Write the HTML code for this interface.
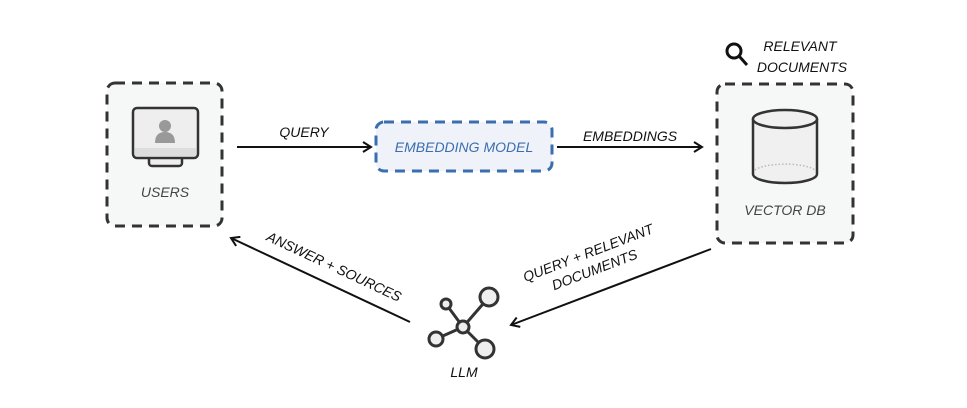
<!DOCTYPE html>
<html><head><style>
body{margin:0;background:#fff}
svg text{font-family:"Liberation Sans",sans-serif;font-style:italic;font-size:14px}
</style></head><body>
<svg width="967" height="403" viewBox="0 0 967 403">
<defs><marker id="a" markerWidth="12" markerHeight="12" refX="10" refY="6" orient="auto" markerUnits="userSpaceOnUse"><path d="M2,1 L10,6 L2,11" fill="none" stroke="#111" stroke-width="2"/></marker></defs>
<rect x="107" y="83" width="115" height="143" rx="8" fill="#f6f8f8" stroke="#333" stroke-width="3" stroke-dasharray="10,7"/>
<rect x="376" y="122" width="176" height="49" rx="8" fill="#eff3f9" stroke="#3b6eae" stroke-width="3" stroke-dasharray="10,7"/>
<rect x="717" y="84" width="136" height="159" rx="8" fill="#f6f8f8" stroke="#333" stroke-width="3" stroke-dasharray="10,7"/>
<!-- monitor -->
<rect x="149" y="156" width="33" height="10" rx="3" fill="#eee" stroke="#333" stroke-width="2.5"/>
<rect x="133" y="108" width="65" height="50" rx="4" fill="#eee" stroke="#333" stroke-width="2.5"/>
<rect x="135" y="148" width="61" height="8" fill="#ddd"/>
<circle cx="165" cy="126" r="6" fill="#999"/><path d="M155,143 Q155,132 165,132 Q175,132 175,143Z" fill="#999"/>
<text x="165" y="197" text-anchor="middle" fill="#444">USERS</text>
<text x="464" y="152" text-anchor="middle" fill="#3b6eae">EMBEDDING MODEL</text>
<!-- cylinder -->
<path d="M753,119 L753,174 A32,9 0 0 0 817,174 L817,119" fill="#f0f0f0" stroke="#333" stroke-width="2.5"/>
<ellipse cx="785" cy="119" rx="32" ry="9" fill="#f0f0f0" stroke="#333" stroke-width="2.5"/>
<path d="M755,170 A32,9 0 0 1 815,170" fill="none" stroke="#bbb" stroke-width="1.5" stroke-dasharray="1.5,2"/>
<text x="785" y="215" text-anchor="middle" fill="#444">VECTOR DB</text>
<!-- search -->
<circle cx="734" cy="51" r="7" fill="none" stroke="#111" stroke-width="3"/><line x1="739" y1="56" x2="747" y2="65" stroke="#111" stroke-width="3"/>
<text x="800" y="51" text-anchor="middle" fill="#111">RELEVANT</text>
<text x="802" y="72" text-anchor="middle" fill="#111">DOCUMENTS</text>
<!-- arrows -->
<line x1="237" y1="147" x2="371" y2="147" stroke="#111" stroke-width="2" marker-end="url(#a)"/>
<text x="304" y="137" text-anchor="middle" fill="#111">QUERY</text>
<line x1="557" y1="147" x2="702" y2="147" stroke="#111" stroke-width="2" marker-end="url(#a)"/>
<text x="630" y="141" text-anchor="middle" fill="#111">EMBEDDINGS</text>
<line x1="711" y1="249" x2="511" y2="325" stroke="#111" stroke-width="2" marker-end="url(#a)"/>
<g transform="translate(592,263) rotate(-21)"><text x="0" y="-6" text-anchor="middle" fill="#111">QUERY + RELEVANT</text><text x="0" y="12" text-anchor="middle" fill="#111">DOCUMENTS</text></g>
<line x1="410" y1="322" x2="231" y2="238" stroke="#111" stroke-width="2" marker-end="url(#a)"/>
<g transform="translate(332,271) rotate(25)"><text x="0" y="0" text-anchor="middle" fill="#111">ANSWER + SOURCES</text></g>
<!-- LLM -->
<g stroke="#333" stroke-width="3" fill="#eee">
<line x1="463" y1="327" x2="446" y2="304"/><line x1="463" y1="327" x2="436" y2="339"/><line x1="463" y1="327" x2="489" y2="297"/><line x1="463" y1="327" x2="485" y2="349"/>
<circle cx="446" cy="304" r="5"/><circle cx="436" cy="339" r="7"/><circle cx="489" cy="297" r="9"/><circle cx="485" cy="349" r="9"/><circle cx="463" cy="327" r="6"/>
</g>
<text x="464" y="377" text-anchor="middle" fill="#111">LLM</text>
</svg>
</body></html>
